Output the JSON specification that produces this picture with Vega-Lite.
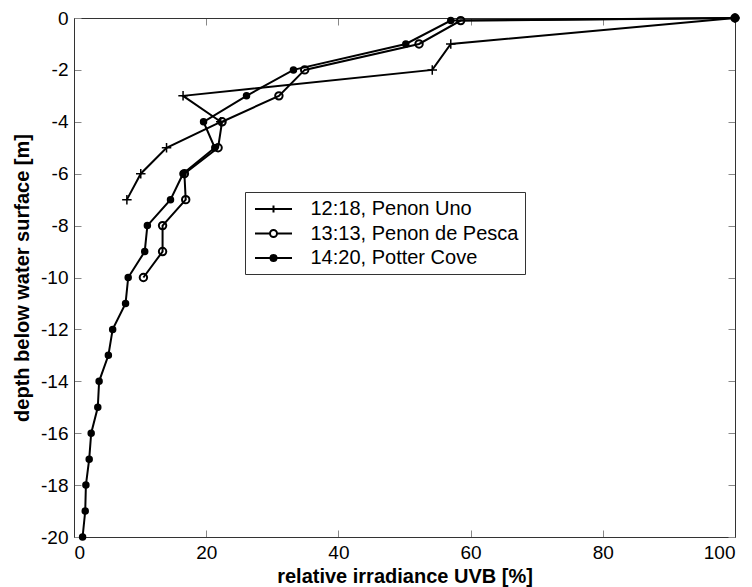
{
  "$schema": "https://vega.github.io/schema/vega-lite/v6.json",
  "autosize": {"type": "none"},
  "width": 661,
  "height": 519,
  "padding": {"left": 74, "top": 18, "right": 17, "bottom": 50},
  "background": "white",
  "config": {
    "font": "Liberation Sans",
    "view": {"stroke": null},
    "axis": {
      "grid": false,
      "labelFont": "Liberation Sans",
      "labelFontSize": 19,
      "labelColor": "black",
      "titleFont": "Liberation Sans",
      "titleFontSize": 20,
      "titleFontWeight": "bold",
      "titleColor": "black",
      "domainColor": "#333333",
      "domainWidth": 1,
      "tickColor": "#888888",
      "tickSize": -7,
      "tickWidth": 1
    }
  },
  "data": {
    "values": [
      {"series": "12:18, Penon Uno", "irr": 100, "depth": 0},
      {"series": "12:18, Penon Uno", "irr": 57, "depth": -1},
      {"series": "12:18, Penon Uno", "irr": 54.2, "depth": -2},
      {"series": "12:18, Penon Uno", "irr": 16.5, "depth": -3},
      {"series": "12:18, Penon Uno", "irr": 22.2, "depth": -4},
      {"series": "12:18, Penon Uno", "irr": 14.0, "depth": -5},
      {"series": "12:18, Penon Uno", "irr": 10.1, "depth": -6},
      {"series": "12:18, Penon Uno", "irr": 8.0, "depth": -7},
      {"series": "13:13, Penon de Pesca", "irr": 100, "depth": 0},
      {"series": "13:13, Penon de Pesca", "irr": 58.5, "depth": -0.1},
      {"series": "13:13, Penon de Pesca", "irr": 52.2, "depth": -1},
      {"series": "13:13, Penon de Pesca", "irr": 34.9, "depth": -2},
      {"series": "13:13, Penon de Pesca", "irr": 31.0, "depth": -3},
      {"series": "13:13, Penon de Pesca", "irr": 22.4, "depth": -4},
      {"series": "13:13, Penon de Pesca", "irr": 21.8, "depth": -5},
      {"series": "13:13, Penon de Pesca", "irr": 16.7, "depth": -6},
      {"series": "13:13, Penon de Pesca", "irr": 16.9, "depth": -7},
      {"series": "13:13, Penon de Pesca", "irr": 13.4, "depth": -8},
      {"series": "13:13, Penon de Pesca", "irr": 13.4, "depth": -9},
      {"series": "13:13, Penon de Pesca", "irr": 10.5, "depth": -10},
      {"series": "14:20, Potter Cove", "irr": 100, "depth": 0},
      {"series": "14:20, Potter Cove", "irr": 57, "depth": -0.1},
      {"series": "14:20, Potter Cove", "irr": 50.2, "depth": -1},
      {"series": "14:20, Potter Cove", "irr": 33.2, "depth": -2},
      {"series": "14:20, Potter Cove", "irr": 26.1, "depth": -3},
      {"series": "14:20, Potter Cove", "irr": 19.6, "depth": -4},
      {"series": "14:20, Potter Cove", "irr": 21.3, "depth": -5},
      {"series": "14:20, Potter Cove", "irr": 16.5, "depth": -6},
      {"series": "14:20, Potter Cove", "irr": 14.6, "depth": -7},
      {"series": "14:20, Potter Cove", "irr": 11.1, "depth": -8},
      {"series": "14:20, Potter Cove", "irr": 10.7, "depth": -9},
      {"series": "14:20, Potter Cove", "irr": 8.2, "depth": -10},
      {"series": "14:20, Potter Cove", "irr": 7.8, "depth": -11},
      {"series": "14:20, Potter Cove", "irr": 5.85, "depth": -12},
      {"series": "14:20, Potter Cove", "irr": 5.2, "depth": -13},
      {"series": "14:20, Potter Cove", "irr": 3.8, "depth": -14},
      {"series": "14:20, Potter Cove", "irr": 3.6, "depth": -15},
      {"series": "14:20, Potter Cove", "irr": 2.6, "depth": -16},
      {"series": "14:20, Potter Cove", "irr": 2.3, "depth": -17},
      {"series": "14:20, Potter Cove", "irr": 1.8, "depth": -18},
      {"series": "14:20, Potter Cove", "irr": 1.7, "depth": -19},
      {"series": "14:20, Potter Cove", "irr": 1.3, "depth": -20}
    ]
  },
  "resolve": {"axis": {"x": "independent", "y": "independent"}},
  "layer": [
    {
      "mark": {"type": "line", "color": "black", "strokeWidth": 2, "clip": false},
      "encoding": {
        "x": {"field": "irr", "type": "quantitative",
              "scale": {"domain": [0, 100], "nice": false, "zero": false},
              "axis": {"values": [0, 20, 40, 60, 80, 100], "title": "relative irradiance UVB [%]", "labelPadding": 13, "titlePadding": 4}},
        "y": {"field": "depth", "type": "quantitative",
              "scale": {"domain": [-20, 0], "nice": false, "zero": false},
              "axis": {"values": [-20, -18, -16, -14, -12, -10, -8, -6, -4, -2, 0], "labelExpr": "datum.value + ''", "title": "depth below water surface [m]", "labelPadding": 13, "titlePadding": 8}},
        "detail": {"field": "series"},
        "order": {"field": "depth", "sort": "descending"}
      }
    },
    {
      "transform": [{"filter": "datum.series === '12:18, Penon Uno'"}],
      "mark": {"type": "point", "shape": "M-1,0H1M0,-1V1", "size": 90, "stroke": "black", "strokeWidth": 1.5, "filled": false, "opacity": 1, "clip": false},
      "encoding": {
        "x": {"field": "irr", "type": "quantitative",
              "axis": {"orient": "top", "values": [0, 20, 40, 60, 80, 100], "labels": false, "title": null}},
        "y": {"field": "depth", "type": "quantitative",
              "axis": {"orient": "right", "values": [-20, -18, -16, -14, -12, -10, -8, -6, -4, -2, 0], "labels": false, "title": null}}
      }
    },
    {
      "transform": [{"filter": "datum.series === '13:13, Penon de Pesca'"}],
      "mark": {"type": "point", "shape": "circle", "size": 55, "stroke": "black", "strokeWidth": 2, "filled": false, "opacity": 1, "clip": false},
      "encoding": {
        "x": {"field": "irr", "type": "quantitative", "axis": null},
        "y": {"field": "depth", "type": "quantitative", "axis": null}
      }
    },
    {
      "transform": [{"filter": "datum.series === '14:20, Potter Cove'"}],
      "mark": {"type": "point", "shape": "circle", "size": 30, "stroke": "black", "strokeWidth": 2, "fill": "black", "filled": true, "opacity": 1, "clip": false},
      "encoding": {
        "x": {"field": "irr", "type": "quantitative", "axis": null},
        "y": {"field": "depth", "type": "quantitative", "axis": null}
      }
    },
    {
      "mark": {"type": "point", "opacity": 0, "strokeWidth": 2, "size": 400, "clip": false},
      "encoding": {
        "x": {"field": "irr", "type": "quantitative", "axis": null},
        "y": {"field": "depth", "type": "quantitative", "axis": null},
        "shape": {
          "field": "series", "type": "nominal",
          "scale": {"domain": ["12:18, Penon Uno", "13:13, Penon de Pesca", "14:20, Potter Cove"],
                    "range": ["M-1.85,0H1.85M0,-0.35V0.35",
                              "M-1.85,0H-0.35M0.35,0H1.85M0.35,0A0.35,0.35,0,1,1,-0.35,0A0.35,0.35,0,1,1,0.35,0Z",
                              "M-1.85,0H1.85M0.3,0A0.3,0.3,0,1,1,-0.3,0A0.3,0.3,0,1,1,0.3,0Z"]},
          "legend": {
            "title": null,
            "orient": "none",
            "legendX": 171,
            "legendY": 174,
            "padding": 6,
            "strokeColor": "#333333",
            "fillColor": "white",
            "labelFont": "Liberation Sans",
            "labelFontSize": 20,
            "labelColor": "black",
            "labelLimit": 400,
            "labelOffset": 26,
            "symbolOffset": 11.5,
            "rowPadding": 3.5,
            "symbolSize": 400,
            "symbolStrokeWidth": 2,
            "symbolStrokeColor": "black",
            "symbolOpacity": 1
          }
        },
        "fill": {
          "field": "series", "type": "nominal",
          "scale": {"domain": ["12:18, Penon Uno", "13:13, Penon de Pesca", "14:20, Potter Cove"],
                    "range": ["transparent", "transparent", "black"]},
          "legend": {"title": null}
        },
        "stroke": {
          "field": "series", "type": "nominal",
          "scale": {"domain": ["12:18, Penon Uno", "13:13, Penon de Pesca", "14:20, Potter Cove"],
                    "range": ["black", "black", "black"]},
          "legend": {"title": null}
        }
      }
    }
  ]
}
